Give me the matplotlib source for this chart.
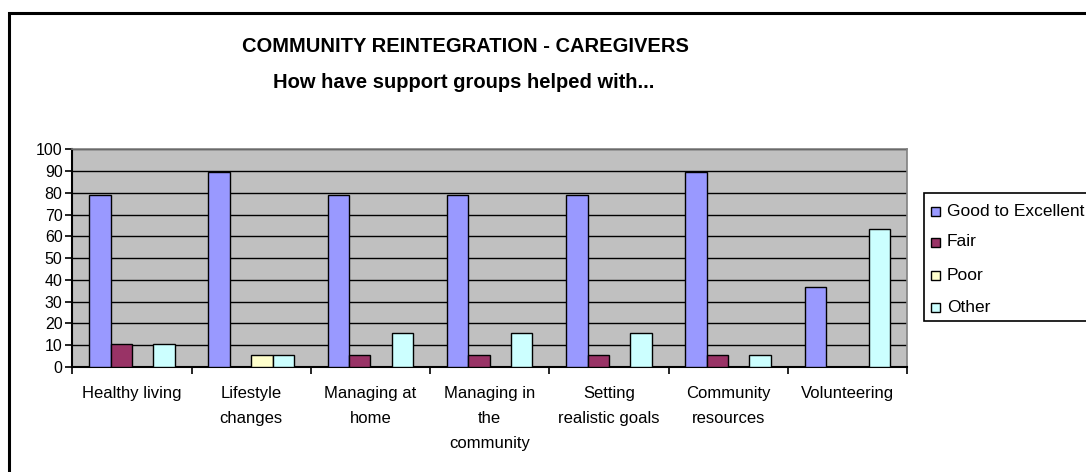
import matplotlib
matplotlib.use("Agg")
import matplotlib.pyplot as plt
from matplotlib.patches import Rectangle
import numpy as np

categories = ["Healthy living", "Lifestyle\nchanges", "Managing at\nhome",
              "Managing in\nthe\ncommunity", "Setting\nrealistic goals",
              "Community\nresources", "Volunteering"]
series_names = ["Good to Excellent", "Fair", "Poor", "Other"]
good = [78.9, 89.5, 78.9, 78.9, 78.9, 89.5, 36.8]
fair = [10.5, 0, 5.3, 5.3, 5.3, 5.3, 0]
poor = [0, 5.3, 0, 0, 0, 0, 0]
other = [10.5, 5.3, 15.8, 15.8, 15.8, 5.3, 63.2]
colors = ["#9999FF", "#993366", "#FFFFCC", "#CCFFFF"]
yticks = list(range(0, 101, 10))

plt.rcParams['font.family'] = ['Liberation Sans', 'DejaVu Sans']

W, H = 1086, 472
fig = plt.figure(figsize=(W / 100, H / 100), dpi=100)

# outer chart frame
fig.patches.append(Rectangle((9 / W, -0.1), 1.2, 1 - 13 / H + 0.1,
                             transform=fig.transFigure, fill=False,
                             edgecolor="black", linewidth=2.2, zorder=0))

ax = fig.add_axes([72.3 / W, 1 - 367 / H, (907 - 72.3) / W, (367 - 149.3) / H])
ax.set_facecolor("#C0C0C0")

x = np.arange(len(categories))
bw = 0.179
data = [good, fair, poor, other]
for i, (vals, c) in enumerate(zip(data, colors)):
    v = np.array(vals, dtype=float)
    v[v == 0] = np.nan
    ax.bar(x + (i - 1.5) * bw, v, width=bw, color=c, edgecolor="black",
           linewidth=1.0, zorder=3)

ax.set_xlim(-0.5, len(categories) - 0.5)
ax.set_ylim(0, 100)
ax.set_yticks(yticks)
ax.set_yticklabels([str(t) for t in yticks], fontsize=11.5)
ax.yaxis.grid(True, color="black", linewidth=1.0, zorder=1)
ax.set_axisbelow(True)

ax.set_xticks(np.arange(-0.5, len(categories), 1.0))
ax.set_xticklabels([])
ax.set_xticks(x, minor=True)
ax.set_xticklabels(categories, minor=True, fontsize=12, linespacing=1.85,
                   va="top")
ax.tick_params(axis="x", which="minor", length=0, pad=13.5)
ax.tick_params(axis="x", which="major", length=5, width=1.2, direction="out")
ax.tick_params(axis="y", length=5, width=1.2, direction="out", pad=2)

for s in ["top", "right"]:
    ax.spines[s].set_color("#808080")
    ax.spines[s].set_linewidth(1.2)
for s in ["left", "bottom"]:
    ax.spines[s].set_color("black")
    ax.spines[s].set_linewidth(1.5)

# titles
fig.text(465 / W, 1 - 46.7 / H, "COMMUNITY REINTEGRATION - CAREGIVERS",
         ha="center", va="center", fontsize=14.5, fontweight="bold")
fig.text(464 / W, 1 - 82.7 / H, "How have support groups helped with...",
         ha="center", va="center", fontsize=14.5, fontweight="bold")

# legend (drawn manually)
fig.patches.append(Rectangle((924 / W, 1 - 321 / H), 0.2, 128 / H,
                             transform=fig.transFigure, facecolor="white",
                             edgecolor="black", linewidth=1.2, zorder=2))
ys = [211, 242, 275, 307]
for name, c, yy in zip(series_names, colors, ys):
    fig.patches.append(Rectangle((931 / W, 1 - (yy + 4.5) / H), 9 / W, 9 / H,
                                 transform=fig.transFigure, facecolor=c,
                                 edgecolor="black", linewidth=1.0, zorder=3))
    fig.text(947 / W, 1 - yy / H, name, ha="left", va="center", fontsize=12.5,
             zorder=4)

fig.savefig("out.png", dpi=100)
